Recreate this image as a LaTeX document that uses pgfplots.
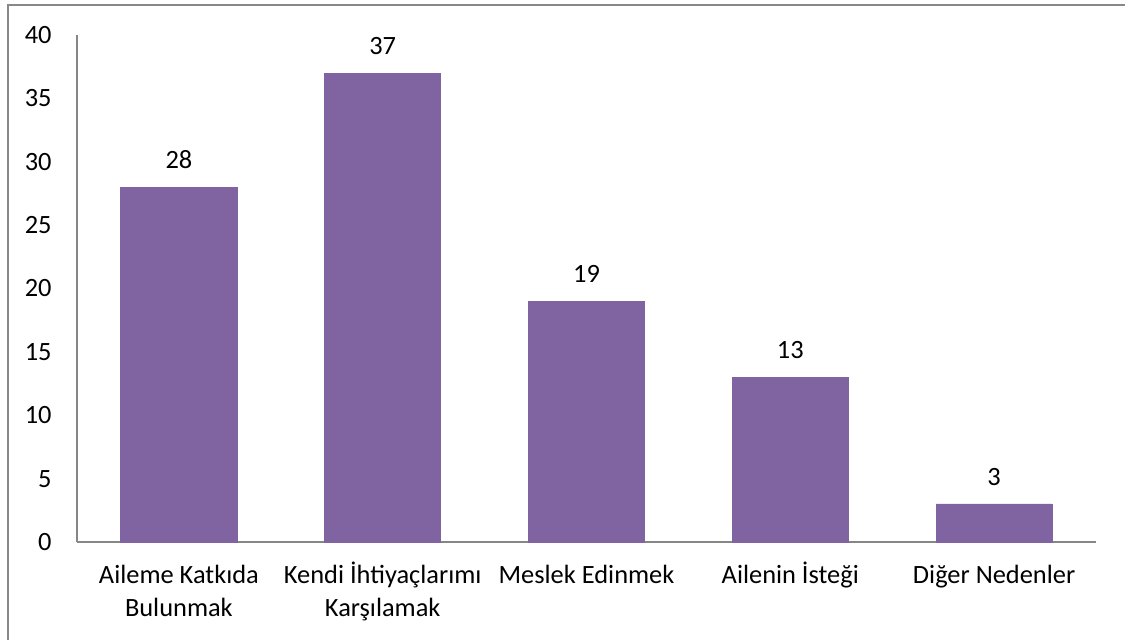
\documentclass[border=0pt]{standalone}
\usepackage{fontspec}
\setmainfont{Carlito}
\usepackage{pgfplots}
\pgfplotsset{compat=1.18}
\definecolor{barpurple}{RGB}{128,100,162}
\definecolor{axisgray}{RGB}{134,134,134}
\definecolor{framegray}{RGB}{136,136,136}
\begin{document}
\begin{tikzpicture}
\newcommand{\lblfont}{\fontsize{13.2}{16.3}\selectfont}
\begin{axis}[
  at={(38.5pt,-271pt)}, anchor=south west,
  width=509.5pt, height=253.5pt, scale only axis,
  xmin=-0.5, xmax=4.5, ymin=0, ymax=40,
  axis x line*=bottom, axis y line*=left,
  axis line style={axisgray, line width=0.6pt, -},
  major tick length=0pt,
  xtick={0,1,2,3,4},
  xticklabels={{\rule{0pt}{11pt}Aileme Katkıda\\Bulunmak},{\rule{0pt}{11pt}Kendi İhtiyaçlarımı\\Karşılamak},{\rule{0pt}{11pt}Meslek Edinmek},{\rule{0pt}{11pt}Ailenin İsteği},{\rule{0pt}{11pt}Diğer Nedenler}},
  xticklabel style={font=\lblfont, align=center, anchor=north, inner sep=0pt, yshift=-9.6pt},
  ytick={0,5,...,40},
  yticklabel style={font=\lblfont, anchor=east, inner sep=0pt, xshift=-12.5pt},
  /pgf/number format/assume math mode=true,
  ybar, bar width=58pt,
  nodes near coords,
  nodes near coords style={font=\lblfont, anchor=south, inner sep=0pt, yshift=9.2pt, black},
  clip=false,
]
\addplot[fill=barpurple, draw=barpurple] coordinates {(0,28) (1,37) (2,19) (3,13) (4,3)};
\end{axis}
\draw[framegray, line width=1pt] (4pt,-330pt) -- (4pt,-2.5pt) -- (570pt,-2.5pt);
\pgfresetboundingbox
\path[use as bounding box] (0,0) rectangle (562.5pt,-319.5pt);
\end{tikzpicture}
\end{document}
